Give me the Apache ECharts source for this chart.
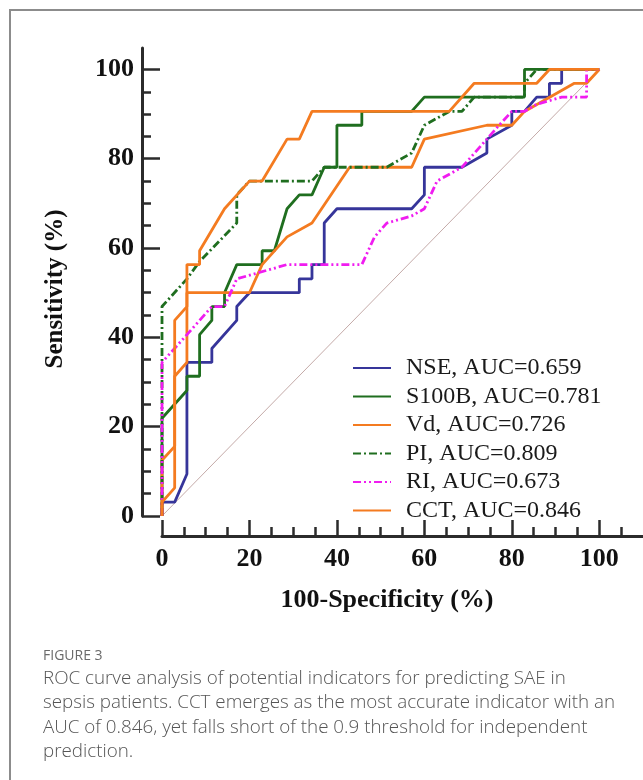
<!DOCTYPE html>
<html>
<head>
<meta charset="utf-8">
<title>ROC curves</title>
<script src="https://cdn.jsdelivr.net/npm/echarts/dist/echarts.min.js"></script>
<style>
  body { margin: 0; background: #fff; }
  #wrap { position: relative; width: 643px; height: 780px; overflow: hidden; }
  #chart { position: absolute; left: 0; top: 0; width: 643px; height: 780px; }
  .cap { position: absolute; left: 43px; font-family: "Open Sans", sans-serif; color: #555; white-space: nowrap; }
</style>
</head>
<body>
<div id="wrap">
  <div id="chart"></div>
  <div class="cap" style="top:645px;font-size:14px;color:#6a6a6a;">FIGURE 3</div>
  <div class="cap" style="top:665px;font-size:18.8px;line-height:24.3px;font-weight:300;">
    ROC curve analysis of potential indicators for predicting SAE in<br>
    sepsis patients. CCT emerges as the most accurate indicator with an<br>
    AUC of 0.846, yet falls short of the 0.9 threshold for independent<br>
    prediction.
  </div>
</div>
<script>
// series names (legend)
const names = ['NSE, AUC=0.659', 'S100B, AUC=0.781', 'Vd, AUC=0.726',
               'PI, AUC=0.809', 'RI, AUC=0.673', 'CCT, AUC=0.846'];
const tickValues = [0, 20, 40, 60, 80, 100];

// [100-specificity, sensitivity]
const nseData = [[0,0],[0,3.1],[2.9,3.1],[5.7,9.4],[5.7,34.4],[11.4,34.4],[11.4,37.5],[17.1,43.8],[17.1,46.9],[20,50],
  [31.4,50],[31.4,53.1],[34.3,53.1],[34.3,56.3],[37.1,56.3],[37.1,65.6],[40,68.8],[57.1,68.8],[60,71.9],[60,78.1],
  [68.6,78.1],[74.3,81.3],[74.3,84.4],[80,87.5],[80,90.6],[82.9,90.6],[85.7,93.8],[88.6,93.8],[88.6,96.9],[91.4,96.9],
  [91.4,100],[100,100]];
const s100bData = [[0,0],[0,21.9],[5.7,28.1],[5.7,31.3],[8.6,31.3],[8.6,40.6],[11.4,43.8],[11.4,46.9],[14.3,46.9],[14.3,50],
  [17.1,56.3],[22.9,56.3],[22.9,59.4],[25.7,59.4],[28.6,68.8],[31.4,71.9],[34.3,71.9],[37.1,78.1],[40,78.1],[40,87.5],
  [45.7,87.5],[45.7,90.6],[57.1,90.6],[60,93.8],[82.9,93.8],[82.9,100],[100,100]];
const vdData = [[0,0],[0,12.5],[2.9,15.6],[2.9,31.3],[5.7,34.4],[5.7,50],[20,50],[22.9,56.3],[28.6,62.5],[34.3,65.6],
  [42.9,78.1],[57.1,78.1],[60,84.4],[74.3,87.5],[80,87.5],[82.9,90.6],[94.3,96.9],[97.1,96.9],[100,100]];
const piData = [[0,0],[0,46.9],[5.7,53.1],[8.6,57],[17.1,65.6],[17.1,71.9],[20,75],[34.3,75],[37.1,78.1],[51.4,78.1],
  [57.1,81.3],[60,87.5],[65.7,90.6],[68.6,90.6],[71.4,93.8],[82.9,93.8],[82.9,96.9],[85.7,100],[100,100]];
const riData = [[0,0],[0,34.4],[5.7,40.6],[11.4,46.9],[14.3,46.9],[17.1,53.1],[28.6,56.3],[45.7,56.3],[48.6,62.5],[51.4,65.6],
  [57.1,67.2],[60,68.8],[62.9,75],[68.6,78.1],[74.3,84.4],[77.1,87.5],[80,90.6],[82.9,90.6],[85.7,92.2],[91.4,93.8],
  [97.1,93.8],[97.1,100],[100,100]];
const cctData = [[0,0],[0,3.1],[2.9,6.3],[2.9,43.8],[5.7,46.9],[5.7,56.3],[8.6,56.3],[8.6,59.4],[14.3,68.8],[20,75],
  [22.9,75],[28.6,84.4],[31.4,84.4],[34.3,90.6],[65.7,90.6],[71.4,96.9],[85.7,96.9],[88.6,100],[100,100]];
const refData = [[0,0],[100,100]];

const serif = 'Liberation Serif, Times New Roman, serif';
const axisColor = '#2b2b2b';

function roc(name, data, color, type) {
  return {
    name: name, type: 'line', data: data, symbol: 'none', clip: false,
    lineStyle: { color: color, width: 2.8, type: type, cap: 'butt' },
    itemStyle: { color: color }
  };
}

function axisCommon() {
  return {
    type: 'value', min: 0, interval: 20, offset: 20,
    axisLine: { show: true, onZero: false, lineStyle: { color: axisColor, width: 3 } },
    minorTick: { show: true, splitNumber: 4, length: 9, lineStyle: { color: axisColor, width: 2.5 } },
    splitLine: { show: false },
    minorSplitLine: { show: false }
  };
}

const chart = echarts.init(document.getElementById('chart'));

const xAxis = Object.assign(axisCommon(), {
  max: 110,
  axisTick: { show: true, inside: true, length: 16, customValues: tickValues, lineStyle: { color: axisColor, width: 2.5 } },
  axisLabel: { customValues: tickValues, margin: 10, fontFamily: serif, fontWeight: 'bold', fontSize: 26, color: '#111' },
  name: '100-Specificity (%)', nameLocation: 'middle', nameGap: 51,
  nameTextStyle: { fontFamily: serif, fontWeight: 'bold', fontSize: 26, color: '#111', padding: [0, 31, 0, 0] }
});
const yAxis = Object.assign(axisCommon(), {
  max: 104.8,
  axisTick: { show: true, inside: true, length: 18, customValues: tickValues, lineStyle: { color: axisColor, width: 2.5 } },
  axisLabel: { customValues: tickValues, margin: 8, fontFamily: serif, fontWeight: 'bold', fontSize: 26, color: '#111' },
  name: 'Sensitivity (%)', nameLocation: 'middle', nameGap: 74,
  nameTextStyle: { fontFamily: serif, fontWeight: 'bold', fontSize: 25, color: '#111', padding: [0, 14, 0, 0] }
});

chart.setOption({
  animation: false,
  backgroundColor: '#fff',
  graphic: [{
    type: 'rect', silent: true, z: -10,
    shape: { x: 10, y: 10, width: 700, height: 800 },
    style: { fill: 'none', stroke: '#8c8c8c', lineWidth: 2 }
  }],
  grid: { left: 162, right: -10, top: 48, bottom: 264 },
  xAxis: xAxis,
  yAxis: yAxis,
  legend: {
    orient: 'vertical', left: 347, top: 351,
    itemWidth: 38, itemHeight: 12, itemGap: 4.5,
    data: names,
    itemStyle: { opacity: 0 },
    textStyle: { fontFamily: serif, fontSize: 24, lineHeight: 24, color: '#1a1a1a', padding: [0, 0, 0, 10] }
  },
  series: [
    { name: 'ref', type: 'line', data: refData, symbol: 'none', silent: true,
      lineStyle: { color: '#c4aaa8', width: 1 }, z: 1 },
    roc(names[0], nseData, '#36359a', 'solid'),
    roc(names[1], s100bData, '#1f6e1f', 'solid'),
    roc(names[2], vdData, '#f47b20', 'solid'),
    roc(names[3], piData, '#1f6e1f', [8, 3, 2, 3]),
    roc(names[4], riData, '#f01cf0', [8, 3, 2, 3, 2, 3]),
    roc(names[5], cctData, '#f47b20', 'solid')
  ]
});
</script>
</body>
</html>
